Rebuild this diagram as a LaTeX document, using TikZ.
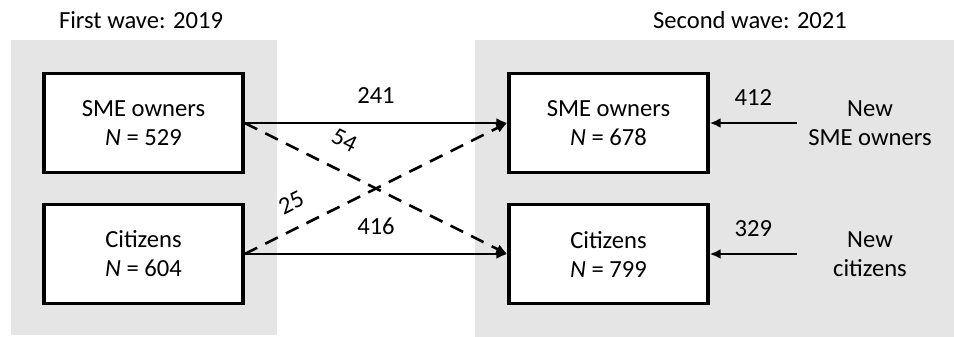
\documentclass[tikz,border=0pt]{standalone}
\usepackage{fontspec}
\setmainfont{Carlito}
\usetikzlibrary{arrows.meta}
\definecolor{panelgray}{RGB}{229,229,229}
\tikzset{
  panel/.style={fill=panelgray, draw=none},
  groupbox/.style={draw=black, fill=white, line width=1.7pt, minimum width=99.5pt, minimum height=49.5pt, align=center, inner sep=0pt},
  flow/.style={line width=1.3pt, -{Latex[length=5.5pt,width=5pt]}},
  crossflow/.style={flow, dash pattern=on 7pt off 4.5pt},
  lbl/.style={inner sep=0pt, font=\fontsize{12.3}{14.5}\selectfont},
  caption/.style={align=center, font=\fontsize{12.3}{14.5}\selectfont}
}
\begin{document}
\begin{tikzpicture}[x=0.5pt, y=-0.5pt, every node/.style={font=\fontsize{12.3}{14.5}\selectfont}]
\useasboundingbox (0,0) rectangle (954,337);
% background panels for the two survey waves
\path[panel] (11,40) rectangle (277,335);
\path[panel] (475,40) rectangle (954,337);
% wave titles
\node (t1) at (141,20) {First wave: 2019};
\node (t2) at (750,20) {Second wave: 2021};
% first wave groups
\node[groupbox] (sme1) at (143.5,123) {SME owners\\\textit{N} = 529};
\node[groupbox] (cit1) at (143.5,254) {Citizens\\\textit{N} = 604};
% second wave groups
\node[groupbox] (sme2) at (608.5,123) {SME owners\\\textit{N} = 678};
\node[groupbox] (cit2) at (608.5,254) {Citizens\\\textit{N} = 799};
% newcomers
\node[caption] (new1) at (870,123) {New\\SME owners};
\node[caption] (new2) at (870,254) {New\\citizens};
\coordinate (in1) at (797,123);
\coordinate (in2) at (797,254);
% panel flows
\draw[flow] (sme1.east) -- node[lbl, above=9pt] {241} (sme2.west);
\draw[flow] (cit1.east) -- node[lbl, above=9pt] {416} (cit2.west);
\draw[crossflow] (sme1.east) -- node[lbl, pos=0.33, sloped, above=10pt] {54} (cit2.west);
\draw[crossflow] (cit1.east) -- node[lbl, pos=0.22, sloped, above=8pt] {25} (sme2.west);
% new entrants
\draw[flow] (in1) -- node[lbl, above=8pt, pos=0.5] {412} (sme2.east);
\draw[flow] (in2) -- node[lbl, above=8pt, pos=0.5] {329} (cit2.east);
\end{tikzpicture}
\end{document}
